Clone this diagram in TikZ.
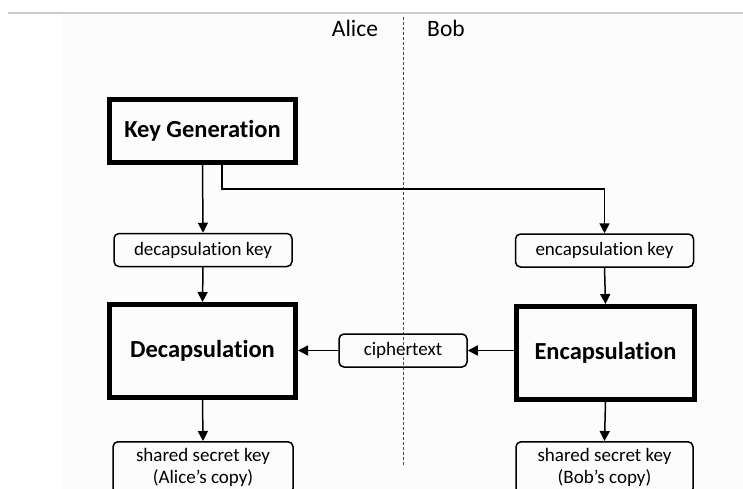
\documentclass[tikz,border=0pt]{standalone}
\usepackage{fontspec}
\setmainfont{Carlito}[Ligatures=NoCommon]
\usetikzlibrary{arrows.meta}
\tikzset{
  thickbox/.style={draw=black, line width=5pt, minimum width=186pt, minimum height=93pt,
                   inner sep=0pt, font=\fontsize{24.5}{28}\selectfont\bfseries},
  keybox/.style={draw=black, line width=1.5pt, rounded corners=5pt, minimum width=178pt,
                 minimum height=33pt, inner sep=0pt, font=\fontsize{19}{22}\selectfont},
  outbox/.style={keybox, anchor=north, align=center, inner xsep=0pt, inner ysep=7pt,
                 minimum height=0pt, font=\fontsize{19}{21.5}\selectfont},
  flow/.style={draw=black, line width=1.5pt, -{Triangle[width=10pt,length=10pt]}},
  party/.style={font=\fontsize{23.5}{26}\selectfont, anchor=base}
}
\begin{document}
\begin{tikzpicture}[x=1pt, y=-1pt]
  \useasboundingbox (0,0) rectangle (743,489);
  \clip (0,0) rectangle (743,489);
  % page background and header rule
  \fill[white] (0,0) rectangle (743,489);
  \fill[black!1] (62,14) rectangle (743,489);
  \draw[black!20, line width=1.5pt] (8,13) -- (743,13);

  % party labels and divider
  \node[party] (alice) at (355,37) {Alice};
  \node[party] (bob) at (446,37) {Bob};
  \coordinate (divtop) at (403,17);
  \coordinate (divbot) at (403,465);
  \draw[black!70, line width=0.8pt, dash pattern=on 3pt off 2pt] (divtop) -- (divbot);

  % main steps
  \node[thickbox, minimum height=63pt] (kg) at (202.5,131) {Key Generation};
  \node[thickbox] (dec) at (202.5,351) {Decapsulation};
  \node[thickbox, minimum width=178pt] (enc) at (605.5,353) {Encapsulation};

  % data items
  \node[keybox] (dk) at (203,250) {decapsulation key};
  \node[keybox] (ek) at (604.5,250.5) {encapsulation key};
  \node[keybox, minimum width=128pt] (ct) at (403,350.5) {ciphertext};
  \node[outbox, minimum width=180pt] (ssa) at (203,441) {shared secret key\\(Alice’s copy)};
  \node[outbox, minimum width=177pt] (ssb) at (604.5,441) {shared secret key\\(Bob’s copy)};

  % connectors
  \draw[flow] (kg.south) -- (dk.north);
  \draw[flow] ([xshift=19.5pt]kg.south) -- ++(0,24) -| (ek.north);
  \draw[flow] (dk.south) -- (dec.north);
  \draw[flow] (ek.south) -- (enc.north);
  \draw[flow] (enc.west |- ct.east) -- (ct.east);
  \draw[flow] (ct.west) -- (dec.east |- ct.west);
  \draw[flow] (dec.south) -- (ssa.north);
  \draw[flow] (enc.south) -- (ssb.north);
\end{tikzpicture}
\end{document}
